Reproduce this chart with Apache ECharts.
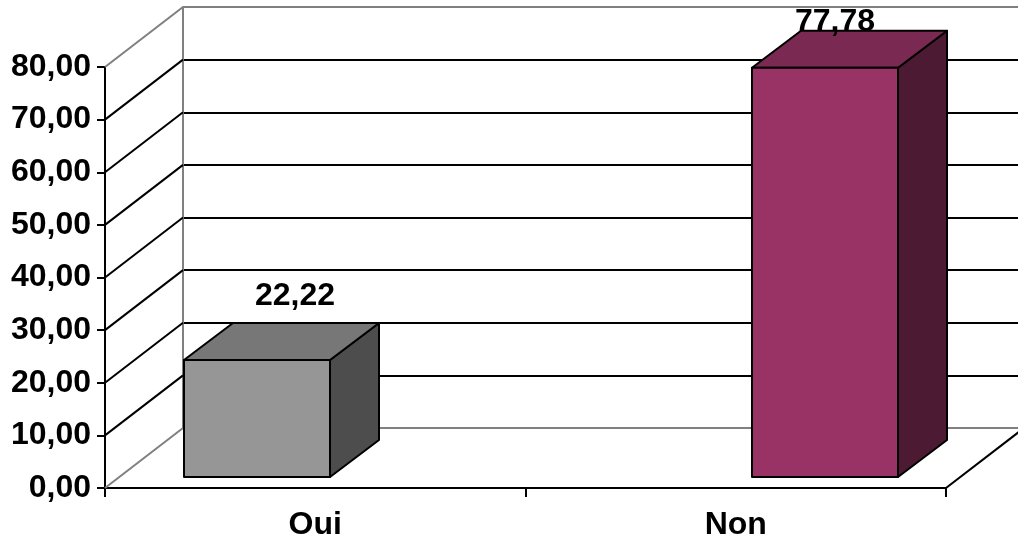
<!DOCTYPE html>
<html>
<head>
<meta charset="utf-8">
<title>Oui / Non</title>
<script src="https://cdn.jsdelivr.net/npm/echarts@6/dist/echarts.min.js"></script>
<style>
  html, body { margin: 0; padding: 0; background: #ffffff; }
  #chart { width: 1018px; height: 538px; }
</style>
</head>
<body>
<div id="chart"></div>
<script>
// ---- data ----
const categories = ['Oui', 'Non'];
const values = [22.22, 77.78];
const yTicks = [0, 10, 20, 30, 40, 50, 60, 70, 80];

// ---- style ----
const faceColors = ['#969696', '#993366'];
const topColors = ['#777777', '#7a2952'];
const sideColors = ['#4d4d4d', '#4c1a33'];
const FONT = { fontFamily: '"Liberation Sans", Arial, sans-serif', fontWeight: 'bold', fontSize: 32, color: '#000' };
const WALL_DX = 78, WALL_DY = -60;   // depth of the floor / side wall
const BAR_DX = 49, BAR_DY = -37;     // depth of each box
const BAR_W = 146;                   // width of the box front face

const fmt = v => v.toFixed(2).replace('.', ',');

const chart = echarts.init(document.getElementById('chart'), null, { renderer: 'canvas' });

const wallLineColors = yTicks.map((v, i) => (i === 0 || i === yTicks.length - 1) ? '#808080' : '#000000');

chart.setOption({
  animation: false,
  backgroundColor: '#ffffff',
  grid: [
    // front plane (axes)
    { left: 105, right: 72, top: 67, bottom: 50, outerBoundsMode: 'none', containLabel: false },
    // back wall
    { left: 183, right: -6, top: 7, bottom: 110, outerBoundsMode: 'none', containLabel: false },
    // plane of the box front faces
    { left: 257, right: 193, top: 56, bottom: 61, outerBoundsMode: 'none', containLabel: false }
  ],
  xAxis: [
    {
      type: 'category', gridIndex: 0, data: categories, boundaryGap: true,
      axisLine: { show: true, lineStyle: { color: '#000', width: 2 } },
      axisTick: { show: true, length: 9, lineStyle: { color: '#000', width: 2 } },
      axisLabel: Object.assign({ margin: 21 }, FONT),
      splitLine: { show: false }
    },
    { type: 'category', gridIndex: 1, data: categories, show: false },
    { type: 'category', gridIndex: 2, data: categories, boundaryGap: false, show: false }
  ],
  yAxis: [
    {
      type: 'value', gridIndex: 0, min: 0, max: 80, interval: 10,
      axisLine: { show: true, lineStyle: { color: '#000', width: 2 } },
      axisTick: { show: true, length: 8, lineStyle: { color: '#000', width: 2 } },
      axisLabel: Object.assign({}, FONT, { margin: 14, formatter: fmt }),
      splitLine: { show: false }
    },
    {
      type: 'value', gridIndex: 1, min: 0, max: 80, interval: 10,
      axisLine: { show: true, lineStyle: { color: '#808080', width: 2 } },
      axisTick: { show: false },
      axisLabel: { show: false },
      splitLine: { show: true, lineStyle: { color: wallLineColors, width: 2 } }
    },
    { type: 'value', gridIndex: 2, min: 0, max: 80, interval: 10, show: false }
  ],
  series: [
    {
      // side wall: each tick joined to the back wall, plus the right edge of the floor
      type: 'custom',
      xAxisIndex: 0, yAxisIndex: 0,
      clip: false, z: 1, silent: true,
      data: yTicks.map(v => [0, v]),
      renderItem: function (params, api) {
        const v = api.value(1);
        const cs = params.coordSys;
        const y = api.coord([0, v])[1];
        const grey = (v === yTicks[0] || v === yTicks[yTicks.length - 1]);
        const children = [{
          type: 'line',
          shape: { x1: cs.x, y1: y, x2: cs.x + WALL_DX, y2: y + WALL_DY },
          style: { stroke: grey ? '#808080' : '#000000', lineWidth: 2 }
        }];
        if (v === yTicks[0]) {
          const xr = cs.x + cs.width;
          children.push({
            type: 'line',
            shape: { x1: xr, y1: y, x2: xr + WALL_DX, y2: y + WALL_DY },
            style: { stroke: '#000000', lineWidth: 2 }
          });
        }
        return { type: 'group', children: children };
      }
    },
    {
      // 3D boxes with their value labels
      type: 'custom',
      xAxisIndex: 2, yAxisIndex: 2,
      clip: false, z: 3, silent: true,
      data: values.map((v, i) => [i, v]),
      renderItem: function (params, api) {
        const i = api.value(0);
        const v = api.value(1);
        const p0 = api.coord([i, 0]);
        const p1 = api.coord([i, v]);
        const cx = p0[0];
        const xl = cx - BAR_W / 2, xr = cx + BAR_W / 2;
        const yb = p0[1], yt = p1[1];
        const stroke = { stroke: '#000000', lineWidth: 2, lineJoin: 'round' };
        let lx = cx + 38, ly = yt - 64;
        if (ly < 22) { lx = cx + 10; ly = 22; }
        return {
          type: 'group',
          children: [
            { type: 'polygon', shape: { points: [[xr, yt], [xr + BAR_DX, yt + BAR_DY], [xr + BAR_DX, yb + BAR_DY], [xr, yb]] },
              style: Object.assign({ fill: sideColors[i] }, stroke) },
            { type: 'polygon', shape: { points: [[xl, yt], [xl + BAR_DX, yt + BAR_DY], [xr + BAR_DX, yt + BAR_DY], [xr, yt]] },
              style: Object.assign({ fill: topColors[i] }, stroke) },
            { type: 'polygon', shape: { points: [[xl, yt], [xr, yt], [xr, yb], [xl, yb]] },
              style: Object.assign({ fill: faceColors[i] }, stroke) },
            { type: 'text', x: lx, y: ly, z2: 10,
              style: Object.assign({ text: fmt(v), align: 'center', verticalAlign: 'middle' }, FONT, { fill: '#000' }) }
          ]
        };
      }
    }
  ]
});
</script>
</body>
</html>
